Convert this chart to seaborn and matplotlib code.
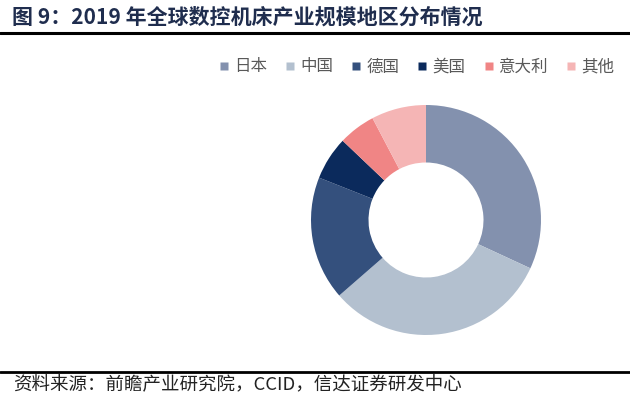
import matplotlib
matplotlib.use("Agg")
import matplotlib.pyplot as plt
import seaborn as sns
from matplotlib.lines import Line2D

sns.set_theme(style="white")
plt.rcParams['font.family'] = ['Noto Sans CJK SC', 'DejaVu Sans']

regions = ["日本", "中国", "德国", "美国", "意大利", "其他"]
shares = [31.9, 31.7, 17.4, 6.1, 5.2, 7.7]
colors = ["#8391AE", "#B3C0CF", "#34507D", "#0B2A5C", "#F08585", "#F5B5B5"]
title = "图 9：2019 年全球数控机床产业规模地区分布情况"
source = "资料来源：前瞻产业研究院，CCID，信达证券研发中心"

W, H = 630, 398
fig = plt.figure(figsize=(W / 100, H / 100), dpi=100)
fig.patch.set_facecolor("white")

# donut axes: center (426, 220), radius 115 px
cx, cy, r = 426, 220, 115
ax = fig.add_axes([(cx - r) / W, 1 - (cy + r) / H, 2 * r / W, 2 * r / H])
ax.pie(shares, colors=colors, startangle=90, counterclock=False,
       wedgeprops=dict(width=0.5, edgecolor="none"), radius=1)
ax.set_xlim(-1, 1)
ax.set_ylim(-1, 1)
ax.set_aspect("equal")
ax.axis("off")

# title and rules
fig.text(12 / W, 1 - 17 / H, title, fontsize=15.1, fontweight="bold",
         color="#1F2D4E", va="center", ha="left")
fig.add_artist(Line2D([0, 1], [1 - 32.5 / H, 1 - 32.5 / H], color="black", lw=2.2))
fig.add_artist(Line2D([0, 1], [1 - 371.5 / H, 1 - 371.5 / H], color="black", lw=2.0))
fig.text(13 / W, 1 - 385 / H, source, fontsize=13.3, style="italic",
         color="#222222", va="center", ha="left")

# legend
handles = [Line2D([], [], marker="s", linestyle="none", markersize=5.4,
                  markerfacecolor=c, markeredgecolor="none") for c in colors]
leg = fig.legend(handles, regions, ncol=6, frameon=False, loc="center right",
                 bbox_to_anchor=(614 / W, 1 - 67 / H), fontsize=11.9,
                 handlelength=0.5, handletextpad=0.35, columnspacing=1.15,
                 borderaxespad=0, borderpad=0)
for t in leg.get_texts():
    t.set_color("#595959")

fig.savefig("out.png", dpi=100, facecolor="white")
